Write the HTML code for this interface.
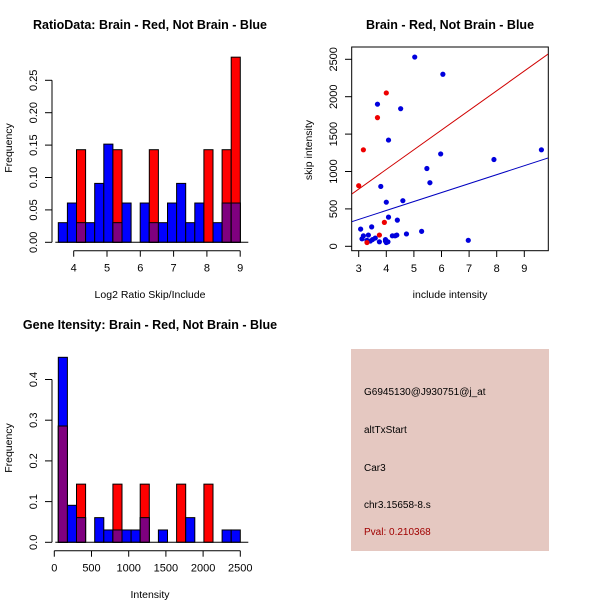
<!DOCTYPE html>
<html><head><meta charset="utf-8"><style>
body{margin:0;background:#fff}
svg{display:block;font-family:"Liberation Sans",sans-serif}
</style></head><body>
<svg id="s" width="600" height="600" viewBox="0 0 600 600" xmlns="http://www.w3.org/2000/svg">
<rect width="600" height="600" fill="#fff"/>
<text x="150" y="29" font-size="12.5" font-weight="bold" text-anchor="middle">RatioData: Brain - Red, Not Brain - Blue</text>
<text x="450" y="29" font-size="12.5" font-weight="bold" text-anchor="middle">Brain - Red, Not Brain - Blue</text>
<text x="150" y="329" font-size="12.5" font-weight="bold" text-anchor="middle">Gene Itensity: Brain - Red, Not Brain - Blue</text>
<text x="150" y="298" font-size="10.5" text-anchor="middle">Log2 Ratio Skip/Include</text>
<text x="12" y="148" font-size="10.5" text-anchor="middle" transform="rotate(-90 12 148)">Frequency</text>
<text x="450" y="298" font-size="10.5" text-anchor="middle">include intensity</text>
<text x="312" y="150" font-size="10.5" text-anchor="middle" transform="rotate(-90 312 150)">skip intensity</text>
<text x="150" y="598" font-size="10.5" text-anchor="middle">Intensity</text>
<text x="12" y="448" font-size="10.5" text-anchor="middle" transform="rotate(-90 12 448)">Frequency</text>
<rect x="351" y="349" width="198" height="202" fill="#e5c8c1"/>
<text x="364" y="395" font-size="10">G6945130@J930751@j_at</text>
<text x="364" y="433" font-size="10">altTxStart</text>
<text x="364" y="471" font-size="10">Car3</text>
<text x="364" y="508" font-size="10">chr3.15658-8.s</text>
<text x="364" y="535" font-size="10" fill="#a00000">Pval: 0.210368</text>
</svg>
<script>
const ratioBlue=[0.0303,0.0606,0.0303,0.0303,0.0909,0.1515,0.0303,0.0606,0,0.0606,0.0303,0.0303,0.0606,0.0909,0.0303,0.0606,0,0.0303,0.0606,0.0606];
const ratioRed=[0,0,0.1429,0,0,0,0.1429,0,0,0,0.1429,0,0,0,0,0,0.1429,0,0.1429,0.2857];
const ratioXTicks=[4,5,6,7,8,9];
const ratioYTicks=["0.00","0.05","0.10","0.15","0.20","0.25"];
const geneBlue=[0.4545,0.0909,0.0606,0,0.0606,0.0303,0.0303,0.0303,0.0303,0.0606,0,0.0303,0,0,0.0606,0,0,0,0.0303,0.0303];
const geneRed=[0.2857,0,0.1429,0,0,0,0.1429,0,0,0.1429,0,0,0,0.1429,0,0,0.1429,0,0,0];
const geneXTicks=[0,500,1000,1500,2000,2500];
const geneYTicks=["0.0","0.1","0.2","0.3","0.4"];
const blueX=[5.03,6.05,3.68,4.52,4.08,5.97,5.47,5.58,7.9,9.62,3.8,4.0,4.6,4.08,4.4,3.47,3.07,3.12,3.17,3.35,3.3,3.42,3.5,3.6,3.75,3.97,4.0,4.06,4.22,4.32,4.38,4.73,5.28,6.97,3.97];
const blueY=[2530,2300,1900,1840,1420,1235,1040,850,1160,1290,800,590,610,390,350,260,230,100,140,150,80,70,90,110,60,90,50,60,140,140,150,165,200,80,70];
const redX=[4.0,3.68,3.17,3.0,3.93,3.75,3.3];
const redY=[2050,1720,1290,810,320,150,50];
const scatXTicks=[3,4,5,6,7,8,9];
const scatYTicks=[0,500,1000,1500,2000,2500];
const redFit=[-24,263];
const blueFit=[0,119.7];

const svg=document.getElementById('s');
const NS='http://www.w3.org/2000/svg';
function mk(t,a){const e=document.createElementNS(NS,t);for(const k in a)e.setAttribute(k,a[k]);svg.appendChild(e);return e;}

function hist(blue,red,x0,bw,yS,yTicks,yStep,xTicks,xS,pfx,axY){
  for(let i=0;i<blue.length;i++){
    const x=x0+i*bw,b=blue[i],r=red[i],m=Math.min(b,r);
    if(b>0){const e=mk('rect',{x:x,y:yS(b),width:bw,height:yS(0)-yS(b),fill:'#0000ff',stroke:'#000','stroke-width':1});
      
      }
    if(r>0){const e=mk('rect',{x:x,y:yS(r),width:bw,height:yS(0)-yS(r),fill:'#ff0000',stroke:'#000','stroke-width':1});
      
      }
    if(m>0){const e=mk('rect',{x:x,y:yS(m),width:bw,height:yS(0)-yS(m),fill:'#7f007f',stroke:'#000','stroke-width':1});
      
      }
  }
  const bl=mk('line',{x1:x0-3,x2:x0+blue.length*bw+8,y1:yS(0),y2:yS(0),stroke:'#000'});
  
  
  const ya=mk('line',{x1:52,x2:52,y1:yS(0),y2:yS((yTicks.length-1)*yStep),stroke:'#000'});
  
  
  yTicks.forEach((l,i)=>{const y=yS(i*yStep);
    mk('line',{x1:45,x2:52,y1:y,y2:y,stroke:'#000'});
    const t=mk('text',{x:37,y:y,'font-size':11,'text-anchor':'middle',transform:`rotate(-90 37 ${y})`});t.textContent=l;
    
    });
  const xa=mk('line',{x1:xS(xTicks[0]),x2:xS(xTicks[xTicks.length-1]),y1:axY,y2:axY,stroke:'#000'});
  
  
  xTicks.forEach(v=>{const x=xS(v);mk('line',{x1:x,x2:x,y1:axY,y2:axY+6,stroke:'#000'});
    const t=mk('text',{x:x,y:axY+21,'font-size':11,'text-anchor':'middle'});t.textContent=v;
    
    });
}
hist(ratioBlue,ratioRed,58.3,9.1,v=>242.3-v*648,ratioYTicks,0.05,ratioXTicks,v=>73.7+(v-4)*33.3,'ratio',250.7);
hist(geneBlue,geneRed,58.3,9.1,v=>542.3-v*407,geneYTicks,0.1,geneXTicks,v=>54.3+v*0.0744,'gene',550.7);

// scatter
const sx=v=>358.7+(v-3)*27.6, sy=v=>246.3-v*0.0748;
const box=mk('rect',{x:351.7,y:47,width:196.6,height:203.7,fill:'none',stroke:'#000'});


scatXTicks.forEach(v=>{const x=sx(v);mk('line',{x1:x,x2:x,y1:250.7,y2:257,stroke:'#000'});
  const t=mk('text',{x:x,y:272,'font-size':11,'text-anchor':'middle'});t.textContent=v;
  
  });
scatYTicks.forEach(v=>{const y=sy(v);mk('line',{x1:345,x2:351.7,y1:y,y2:y,stroke:'#000'});
  const t=mk('text',{x:337,y:y,'font-size':11,'text-anchor':'middle',transform:`rotate(-90 337 ${y})`});t.textContent=v;
  
  });
const clip=document.createElementNS(NS,'clipPath');clip.setAttribute('id','cp');
const cr=document.createElementNS(NS,'rect');cr.setAttribute('x',352);cr.setAttribute('y',47.5);cr.setAttribute('width',196);cr.setAttribute('height',203);clip.appendChild(cr);svg.appendChild(clip);
function fit(f,c,n){const xa=2.7,xb=9.9;const l=mk('line',{x1:sx(xa),y1:sy(f[0]+f[1]*xa),x2:sx(xb),y2:sy(f[0]+f[1]*xb),stroke:c,'clip-path':'url(#cp)'});
  
  }
fit(redFit,'#d00000','red-fit-line');
fit(blueFit,'#0000c0','blue-fit-line');
blueX.forEach((v,i)=>{const c=mk('circle',{cx:sx(v),cy:sy(blueY[i]),r:2.6,fill:'#0000dd'});
  
  });
redX.forEach((v,i)=>{const c=mk('circle',{cx:sx(v),cy:sy(redY[i]),r:2.6,fill:'#ee0000'});
  
  });
</script>
</body></html>
